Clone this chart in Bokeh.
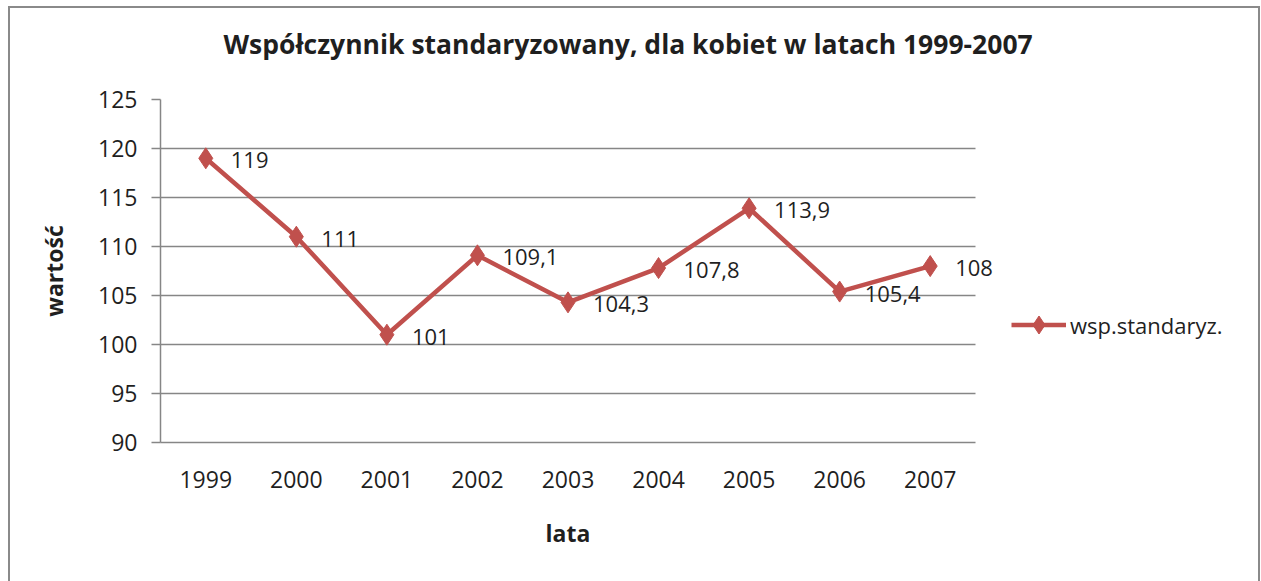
from bokeh.plotting import figure
from bokeh.models import (FixedTicker, Legend, LegendItem, ColumnDataSource, Title,
                          LabelSet, Range1d)
from bokeh.core.properties import value
from bokeh.embed import file_html
from bokeh.resources import INLINE

years = ["1999", "2000", "2001", "2002", "2003", "2004", "2005", "2006", "2007"]
values = [119, 111, 101, 109.1, 104.3, 107.8, 113.9, 105.4, 108]
labels = ["119", "111", "101", "109,1", "104,3", "107,8", "113,9", "105,4", "108"]
y_ticks = [90, 95, 100, 105, 110, 115, 120, 125]

FONT = "Open Sans"
RED = "#C0504D"
GRID = "#868686"
TXT = "#1f1f1f"

n = len(years)
xs = list(range(n))
src = ColumnDataSource(dict(x=xs, y=values, lab=labels))

W, H = 1252, 575
MB_L, MB_R, MB_T, MB_B = 150, 10, 91, 141
PLOT_AREA_W = 812          # width of the category area (9 categories)
frame_w = W - 4 - MB_L - MB_R
x_end = -0.5 + n * frame_w / PLOT_AREA_W

p = figure(x_range=Range1d(-0.5, x_end), y_range=Range1d(90, 125), width=W, height=H,
           output_backend="svg", toolbar_location=None, title=None,
           min_border_left=MB_L, min_border_right=MB_R, min_border_top=MB_T,
           min_border_bottom=MB_B)
p.styles = {"border-top": "2px solid #8a8a8a", "border-left": "2px solid #8a8a8a",
            "border-right": "2px solid #8a8a8a", "box-sizing": "border-box",
            "margin-left": "8px", "margin-top": "6px"}

# spacer between the frame and the chart title
p.add_layout(Title(text=" ", text_font_size="1px", standoff=23), "above")
p.add_layout(Title(text="Współczynnik standaryzowany,  dla kobiet w latach 1999-2007",
                   text_font=FONT, text_font_size="26.5px", text_font_style="bold",
                   text_color=TXT, align="left", offset=63, standoff=20,
                   vertical_align="top"), "above")

p.outline_line_color = None
p.xgrid.grid_line_color = None
p.ygrid.grid_line_color = GRID
p.ygrid.grid_line_width = 1.5
p.ygrid.cross_bounds = (-0.5, n - 0.5)
p.yaxis.ticker = FixedTicker(ticks=y_ticks)

p.yaxis.axis_line_color = GRID
p.yaxis.axis_line_width = 1.5
p.yaxis.major_tick_line_color = GRID
p.yaxis.major_tick_line_width = 1.5
p.yaxis.major_tick_out = 9
p.yaxis.major_tick_in = 0
p.yaxis.minor_tick_line_color = None
p.yaxis.major_label_standoff = 14
p.yaxis.axis_label = "wartość"
p.yaxis.axis_label_standoff = 25

p.xaxis.ticker = FixedTicker(ticks=xs)
p.xaxis.major_label_overrides = {i: y for i, y in zip(xs, years)}
p.xaxis.bounds = (-0.5, n - 0.5)
p.xaxis.axis_line_color = GRID
p.xaxis.axis_line_width = 1.5
p.xaxis.major_tick_line_color = None
p.xaxis.minor_tick_line_color = None
p.xaxis.major_label_standoff = 22

for ax in (p.xaxis[0], p.yaxis[0]):
    ax.major_label_text_font = FONT
    ax.major_label_text_font_size = "23px"
    ax.major_label_text_color = TXT
    ax.axis_label_text_font = FONT
    ax.axis_label_text_font_size = "23px"
    ax.axis_label_text_font_style = "bold"
    ax.axis_label_text_color = TXT

# x axis title, placed under the category area
p.add_layout(Title(text="lata", text_font=FONT, text_font_size="23px",
                   text_font_style="bold", text_color=TXT, align="left",
                   offset=385, standoff=49), "below")

ln = p.line("x", "y", source=src, line_color=RED, line_width=4.5)
sc = p.scatter("x", "y", source=src, marker="diamond", size=21,
               fill_color=RED, line_color=RED)

ls = LabelSet(x="x", y="y", text="lab", source=src, x_offset=25, y_offset=-2,
              text_align="left", text_baseline="middle",
              text_font=value(FONT), text_font_size="22px", text_color=TXT)
p.add_layout(ls)

legend = Legend(items=[LegendItem(label="wsp.standaryz.", renderers=[ln, sc])],
                location=(841, 85), glyph_width=55, glyph_height=45,
                label_text_font=FONT, label_text_font_size="22px",
                label_text_color=TXT, border_line_alpha=0, background_fill_alpha=0,
                padding=10, margin=0, label_standoff=4)
p.add_layout(legend, "center")

open("out.html", "w").write(file_html(p, INLINE))
